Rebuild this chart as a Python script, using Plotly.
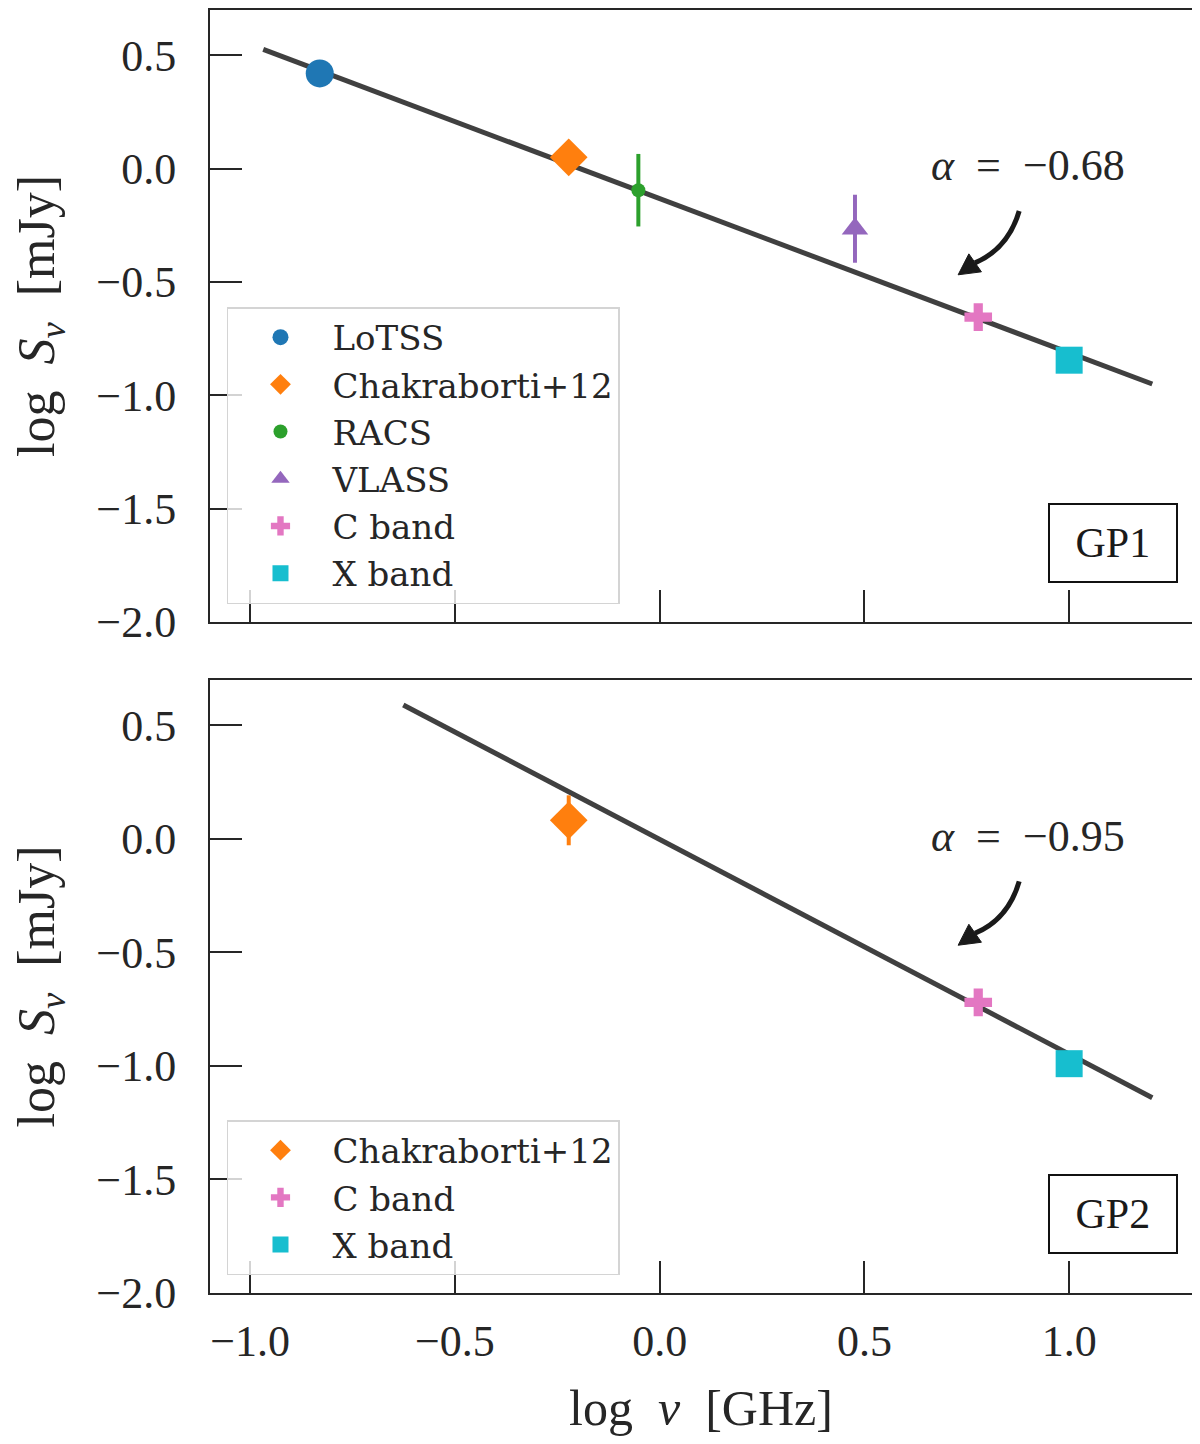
import plotly.graph_objects as go

# ---------------- data ----------------
# GP1 (top panel)
gp1_names = ["LoTSS", "Chakraborti+12", "RACS", "VLASS", "C band", "X band"]
gp1_lognu = [-0.830, -0.222, -0.052, 0.477, 0.778, 1.000]
gp1_logs = [0.420, 0.050, -0.095, -0.265, -0.655, -0.845]
gp1_err = [0.010, 0.020, 0.160, 0.150, 0.020, 0.020]
gp1_fit_x = [-0.968, 1.203]
gp1_fit_y = [0.526, -0.950]
gp1_alpha = "−0.68"

# GP2 (bottom panel)
gp2_names = ["Chakraborti+12", "C band", "X band"]
gp2_lognu = [-0.222, 0.778, 1.000]
gp2_logs = [0.082, -0.720, -0.990]
gp2_err = [0.110, 0.020, 0.020]
gp2_fit_x = [-0.626, 1.203]
gp2_fit_y = [0.590, -1.140]
gp2_alpha = "−0.95"

x_ticks = [-1.0, -0.5, 0.0, 0.5, 1.0]
y_ticks = [-2.0, -1.5, -1.0, -0.5, 0.0, 0.5]

# ---------------- styles ----------------
STYLE = {
    "LoTSS": dict(symbol="circle", color="#1f77b4", size=28),
    "Chakraborti+12": dict(symbol="diamond", color="#ff7f0e", size=29),
    "RACS": dict(symbol="circle", color="#2ca02c", size=14),
    "VLASS": dict(symbol="triangle-up", color="#9467bd", size=23),
    "C band": dict(symbol="cross", color="#e377c2", size=23),
    "X band": dict(symbol="square", color="#17becf", size=27),
}
FONT = "Liberation Serif"
LEGFONT = "DejaVu Serif"
INK = "#262626"
LINE = "#404040"
ARROW = "#1a1a1a"

fig = go.Figure()


def add_panel(names, xs, ys, errs, fx, fy, xa, ya, legend):
    fig.add_trace(go.Scatter(x=fx, y=fy, mode="lines", xaxis=xa, yaxis=ya,
                             line=dict(color=LINE, width=5), showlegend=False,
                             hoverinfo="skip"))
    for n, x, y, e in zip(names, xs, ys, errs):
        s = STYLE[n]
        fig.add_trace(go.Scatter(
            x=[x], y=[y], mode="markers", name=n, xaxis=xa, yaxis=ya,
            legend=legend,
            marker=dict(symbol=s["symbol"], color=s["color"], size=s["size"],
                        line=dict(width=0)),
            error_y=dict(type="data", array=[e], visible=True, color=s["color"],
                         thickness=4, width=0),
        ))


add_panel(gp1_names, gp1_lognu, gp1_logs, gp1_err, gp1_fit_x, gp1_fit_y, "x", "y", "legend")
add_panel(gp2_names, gp2_lognu, gp2_logs, gp2_err, gp2_fit_x, gp2_fit_y, "x2", "y2", "legend2")

axis_common = dict(showline=True, linecolor=INK, linewidth=2, mirror=True,
                   ticks="inside", ticklen=32, tickwidth=2, tickcolor=INK,
                   showgrid=False, zeroline=False,
                   tickfont=dict(family=FONT, size=44, color=INK))

xrange = [-1.098, 1.300]
yrange = [-2.0, 0.70]
ytitle = "log\u2002<i>S</i><sub><i>ν</i></sub>\u2002[mJy]"
legend_common = dict(x=0.0173, xanchor="left", yanchor="bottom",
                     bgcolor="rgba(255,255,255,0.8)", bordercolor="#d4d4d4",
                     borderwidth=1.5, font=dict(family=LEGFONT, size=34, color=INK),
                     itemwidth=94, tracegroupgap=0)

# page body has an 8px default margin -> figure is sized to fit the window
fig.update_layout(
    width=1192, height=1436,
    margin=dict(l=202, r=8, t=0, b=151),
    plot_bgcolor="white", paper_bgcolor="white",
    font=dict(family=FONT, color=INK),
    xaxis=dict(domain=[0, 1], anchor="y", range=xrange, tickvals=x_ticks,
               showticklabels=False, matches="x2", **axis_common),
    xaxis2=dict(domain=[0, 1], anchor="y2", range=xrange, tickvals=x_ticks,
                tickformat=".1f", ticklabelstandoff=8,
                title=dict(text="log\u2002<i>ν</i>\u2002[GHz]",
                           font=dict(family=FONT, size=50, color=INK), standoff=25),
                **axis_common),
    yaxis=dict(domain=[0.523, 1], anchor="x", range=yrange, tickvals=y_ticks,
               tickformat=".1f", ticklabelstandoff=23,
               title=dict(text=ytitle, font=dict(family=FONT, size=52, color=INK), standoff=44),
               **axis_common),
    yaxis2=dict(domain=[0, 0.4778], anchor="x2", range=yrange, tickvals=y_ticks,
                tickformat=".1f", ticklabelstandoff=23,
                title=dict(text=ytitle, font=dict(family=FONT, size=52, color=INK), standoff=44),
                **axis_common),
    legend=dict(y=0.537, **legend_common),
    legend2=dict(y=0.014, **legend_common),
)

# annotations: slope labels, curved arrows, panel tags
for xa, ya, alpha, tag in [("x", "y", gp1_alpha, "GP1"), ("x2", "y2", gp2_alpha, "GP2")]:
    fig.add_annotation(x=0.90, y=0.012, xref=xa, yref=ya, showarrow=False,
                       xanchor="center", yanchor="middle",
                       text=f"<i>α</i>\u2002=\u2002{alpha}",
                       font=dict(family=FONT, size=44, color=INK))
    # curved arrow shaft
    fig.add_shape(type="path", xref=xa, yref=ya,
                  path="M 0.878,-0.187 Q 0.851,-0.354 0.770,-0.4155",
                  line=dict(color=ARROW, width=5))
    # arrow head
    fig.add_shape(type="path", xref=xa, yref=ya,
                  path="M 0.7289,-0.4683 L 0.7858,-0.4551 L 0.7551,-0.3759 Z",
                  fillcolor=ARROW, line=dict(color=ARROW, width=1))
    fig.add_annotation(x=0.92, y=0.129, xref=f"{xa} domain", yref=f"{ya} domain",
                       xanchor="center", yanchor="middle",
                       text="\u00a0" + tag + "\u00a0", showarrow=False,
                       font=dict(family=FONT, size=42, color="#1a1a1a"),
                       bordercolor="#111111", borderwidth=2, borderpad=15,
                       bgcolor="white")

fig.write_html("out.html")
